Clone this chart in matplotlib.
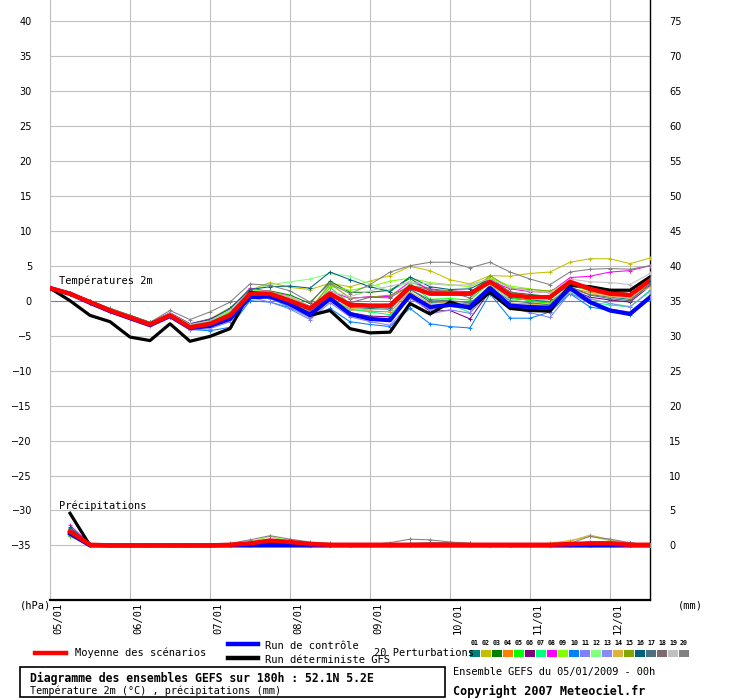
import numpy as np
import matplotlib
matplotlib.use('Agg')
import matplotlib.pyplot as plt
import matplotlib.transforms as mtransforms
from matplotlib.lines import Line2D
from matplotlib.patches import Rectangle

nan = np.nan

# time steps (hours from 05/01 00h), every 6h up to 180h
hours = list(range(0, 181, 6))
day_labels = ['05/01', '06/01', '07/01', '08/01', '09/01', '10/01', '11/01', '12/01']
day_hours = [0, 24, 48, 72, 96, 120, 144, 168]

# 2m temperature (°C)
temp_mean = [1.8, 1.0, -0.2, -1.4, -2.4, -3.4, -2.1, -3.8, -3.3, -2.1, 1.0, 1.0, 0.0, -1.1, 1.0, -0.6,
             -0.7, -0.7, 2.0, 1.0, 1.0, 1.0, 2.7, 0.8, 0.5, 0.5, 2.7, 1.7, 1.0, 0.8, 2.9]
temp_ctrl = [1.8, 1.0, -0.3, -1.5, -2.5, -3.5, -2.2, -3.9, -3.6, -2.6, 0.5, 0.6, -0.5, -2.0, 0.3, -1.9,
             -2.6, -2.8, 0.8, -0.9, -0.6, -0.9, 1.8, -0.7, -0.9, -1.0, 1.8, -0.2, -1.4, -1.9, 0.5]
temp_det = [1.8, 0.0, -2.1, -3.0, -5.2, -5.7, -3.3, -5.8, -5.1, -4.0, 1.2, 0.8, -0.4, -2.1, -1.4, -4.0,
            -4.6, -4.5, -0.4, -1.9, -0.2, -1.1, 1.2, -1.1, -1.4, -1.5, 2.2, 2.0, 1.5, 1.5, 3.4]

temp_pert = [
    [1.8, 1.1, -0.1, -1.2, -2.2, -3.2, -1.9, -3.6, -3.2, -1.7, 0.7, 0.4, -0.6, -2.2, 1.0, -1.0, -1.1, -1.3, 1.7, -0.2, -0.3, -0.5, 2.2, 0.3, 0.1, -0.1, 1.7, 0.9, 0.5, 0.2, 2.2],
    [1.8, 1.0, -0.1, -1.2, -2.1, -3.1, -1.8, -3.4, -2.6, -1.0, 1.5, 2.6, 1.9, 1.6, 2.5, 2.0, 2.8, 3.6, 4.9, 4.3, 3.0, 2.4, 3.6, 3.5, 3.9, 4.1, 5.5, 6.0, 6.0, 5.3, 6.1],
    [1.8, 1.1, 0.0, -1.1, -2.1, -3.1, -1.8, -3.4, -2.9, -1.2, 1.3, 1.4, 0.8, -0.4, 2.8, 1.2, 1.2, 1.5, 3.2, 1.4, 1.1, 0.9, 3.3, 1.2, 0.9, 0.6, 2.1, 1.6, 1.4, 1.0, 3.0],
    [1.7, 0.9, -0.3, -1.4, -2.4, -3.4, -2.1, -3.9, -3.6, -2.3, 1.1, 0.7, -0.4, -1.9, 0.5, -1.3, -1.5, -1.6, 1.2, -1.0, -0.7, -0.9, 2.1, -0.5, -0.4, -0.2, 1.8, 1.2, 0.8, 0.6, 2.3],
    [1.8, 1.0, -0.1, -1.3, -2.2, -3.2, -1.9, -3.5, -3.0, -1.6, 1.0, 1.1, 0.2, -1.7, 1.9, -0.4, -0.6, -0.5, 2.4, 0.2, 0.3, 0.1, 2.6, 0.5, 0.0, -0.4, 2.3, 1.4, 0.9, 0.6, 2.6],
    [1.8, 0.9, -0.3, -1.5, -2.5, -3.5, -2.2, -3.9, -3.5, -2.4, 0.9, 0.5, -0.3, -2.1, 0.7, -1.7, -2.2, -2.3, 0.5, -1.5, -1.4, -2.6, 1.4, -0.8, -1.0, -1.3, 1.6, 0.5, 0.1, -0.2, 2.1],
    [1.8, 1.0, -0.2, -1.4, -2.3, -3.4, -2.1, -3.8, -3.7, -2.6, 1.2, 0.4, -1.0, -2.3, 0.4, -1.2, -1.6, -2.0, 0.9, -0.7, -0.5, -1.7, 1.9, -0.6, -1.2, -1.4, 1.1, -0.2, -0.6, -0.9, 1.5],
    [1.8, 1.1, 0.0, -1.2, -2.2, -3.2, -1.7, -3.3, -2.6, -1.3, 1.8, 1.3, 0.6, -0.8, 1.4, 0.3, 0.6, 0.6, 2.7, 1.7, 1.4, 1.3, 2.8, 1.7, 1.3, 1.2, 3.3, 3.5, 4.1, 4.3, 5.0],
    [1.8, 1.1, 0.0, -1.2, -2.1, -3.2, -1.9, -3.5, -3.0, -1.5, 1.5, 1.3, 0.5, -1.0, 2.1, 1.5, 2.0, 2.8, 3.2, 2.6, 2.3, 2.0, 3.3, 2.1, 1.7, 1.3, 2.3, 1.5, 1.1, 1.0, 2.7],
    [1.8, 1.0, -0.3, -1.5, -2.5, -3.5, -2.3, -4.1, -4.3, -3.8, 0.0, -0.2, -1.0, -2.3, -1.1, -3.0, -3.4, -3.7, -1.1, -3.3, -3.7, -3.9, 1.0, -2.5, -2.5, -1.6, 1.0, -0.9, -1.4, -2.1, 0.3],
    [1.7, 0.9, -0.4, -1.6, -2.6, -3.6, -2.4, -4.2, -4.0, -3.0, 0.5, -0.2, -1.2, -2.7, -0.3, -2.3, -3.0, -3.5, -0.5, -1.9, -1.3, -1.8, 1.3, -1.0, -1.7, -2.4, 1.1, -0.4, -1.2, -1.6, 0.6],
    [1.8, 1.1, 0.0, -1.1, -2.1, -3.1, -1.8, -3.4, -2.8, -1.3, 1.4, 2.3, 2.7, 3.1, 3.9, 3.5, 2.4, 1.4, 2.8, 1.2, 0.9, 0.8, 2.3, 0.2, -0.3, -0.5, 1.3, 0.2, -0.4, -0.8, 1.2],
    [1.7, 0.9, -0.3, -1.5, -2.5, -3.5, -2.3, -4.0, -3.8, -2.7, 0.9, 0.3, -0.9, -2.5, 0.0, -2.0, -2.5, -2.6, 0.3, -1.3, -0.8, -1.2, 1.7, -0.4, -1.0, -1.7, 1.5, 0.3, -0.4, -0.9, 1.4],
    [1.8, 1.0, -0.2, -1.4, -2.3, -3.3, -2.0, -3.7, -3.4, -2.2, 1.0, 0.9, -0.1, -1.8, 0.9, -1.1, -1.3, -1.2, 1.3, -0.4, -0.2, -0.6, 1.6, -0.3, -0.5, -0.7, 1.6, 1.0, 0.6, 0.4, 2.0],
    [1.8, 1.0, -0.1, -1.3, -2.2, -3.2, -1.9, -3.6, -3.1, -1.8, 1.1, 1.0, 0.3, -1.3, 2.4, 0.4, 0.5, 0.8, 2.0, 1.2, 1.5, 1.0, 3.6, 1.8, 1.6, 1.4, 2.6, 1.5, 1.2, 1.0, 2.9],
    [1.8, 1.1, 0.0, -1.2, -2.1, -3.1, -1.8, -3.3, -2.7, -1.1, 1.6, 2.0, 2.1, 1.8, 4.1, 3.0, 2.0, 1.3, 3.4, 2.0, 1.6, 1.7, 3.1, 0.6, 0.5, 0.3, 2.5, 1.5, 1.3, 1.0, 2.8],
    [1.8, 1.0, -0.2, -1.4, -2.4, -3.3, -2.0, -3.7, -3.3, -2.0, 0.9, 0.6, -0.5, -2.0, 0.8, -0.7, -0.9, -1.1, 1.6, 0.1, 0.0, -0.3, 1.9, 0.0, -0.3, -0.6, 2.0, 0.8, 0.3, 0.0, 2.4],
    [1.8, 1.0, -0.2, -1.3, -2.3, -3.3, -2.0, -3.6, -3.2, -1.9, 1.2, 0.8, 0.0, -1.5, 0.6, -0.3, 0.5, 0.4, 2.2, 1.6, 1.2, 0.4, 2.9, 1.3, 0.6, 0.3, 2.4, 2.0, 1.6, 1.4, 3.3],
    [1.8, 1.1, 0.0, -1.2, -2.2, -3.2, -1.8, -3.4, -2.9, -1.4, 1.3, 1.0, 0.6, -0.8, 1.3, 0.6, 1.4, 2.1, 2.6, 2.4, 2.2, 2.3, 3.1, 1.9, 1.4, 1.1, 3.1, 2.7, 2.6, 2.3, 3.9],
    [1.8, 1.1, 0.0, -1.1, -2.1, -3.1, -1.4, -2.7, -1.6, -0.2, 2.4, 2.2, 1.4, -0.2, 2.5, 1.0, 2.3, 4.1, 5.0, 5.5, 5.5, 4.7, 5.5, 4.1, 3.1, 2.3, 4.1, 4.5, 4.6, 4.5, 5.0],
]

# 6h precipitation (mm)
prec_mean = [nan, 2.0, 0.1, 0, 0, 0, 0, 0, 0, 0.1, 0.3, 0.7, 0.5, 0.2, 0.1, 0.1,
             0.1, 0.1, 0.1, 0.1, 0.1, 0.1, 0.1, 0.1, 0.1, 0.1, 0.2, 0.3, 0.3, 0.1, 0.1]
prec_ctrl = [nan, 1.7, 0, 0, 0, 0, 0, 0, 0, 0, 0, 0, 0, 0, 0, 0,
             0, 0, 0, 0, 0, 0, 0, 0, 0, 0, 0, 0, 0, 0, 0]
prec_det = [nan, 4.6, 0, 0, 0, 0, 0, 0, 0, 0, 0.2, 0.3, 0.1, 0, 0, 0,
            0, 0, 0, 0, 0, 0, 0, 0, 0, 0, 0, 0, 0, 0, 0]

prec_pert = [
    [nan, 2.5, 0.2, 0, 0, 0, 0, 0, 0, 0, 0.2, 0.4, 0.2, 0.1, 0, 0, 0, 0, 0, 0, 0, 0, 0, 0, 0, 0, 0, 0, 0, 0, 0],
    [nan, 1.8, 0.1, 0, 0, 0, 0, 0, 0, 0, 0.4, 0.8, 0.6, 0.4, 0.1, 0, 0, 0, 0, 0, 0, 0, 0, 0, 0, 0.3, 0.7, 1.3, 0.7, 0.3, 0],
    [nan, 1.5, 0.1, 0, 0, 0, 0, 0, 0, 0, 0.3, 0.5, 0.3, 0.2, 0.1, 0, 0, 0, 0, 0, 0.3, 0.3, 0, 0, 0, 0, 0, 0, 0, 0, 0],
    [nan, 2.1, 0.2, 0, 0, 0, 0, 0, 0, 0, 0.1, 0.4, 0.2, 0.1, 0, 0, 0, 0, 0, 0, 0, 0, 0, 0, 0, 0, 0, 0, 0, 0, 0],
    [nan, 1.3, 0.1, 0, 0, 0, 0, 0, 0, 0, 0.2, 0.7, 0.3, 0.3, 0.2, 0, 0, 0, 0, 0, 0, 0, 0, 0, 0, 0, 0, 0, 0, 0, 0],
    [nan, 2.2, 0.2, 0, 0, 0, 0, 0, 0, 0, 0.3, 0.6, 0.4, 0.1, 0, 0, 0, 0, 0, 0, 0, 0, 0, 0, 0, 0, 0, 0, 0, 0, 0],
    [nan, 1.6, 0.1, 0, 0, 0, 0, 0, 0, 0, 0.2, 0.5, 0.2, 0, 0, 0, 0, 0, 0, 0, 0, 0, 0, 0, 0, 0, 0, 0, 0, 0, 0],
    [nan, 2.9, 0.2, 0, 0, 0, 0, 0, 0, 0, 0.4, 0.9, 0.4, 0.2, 0, 0, 0, 0, 0, 0, 0, 0, 0, 0, 0, 0, 0.2, 0.5, 0.5, 0.4, 0],
    [nan, 1.9, 0.1, 0, 0, 0, 0, 0, 0, 0, 0.5, 1.3, 0.6, 0.2, 0, 0, 0, 0, 0, 0, 0, 0, 0, 0, 0, 0, 0, 0, 0, 0, 0],
    [nan, 2.4, 0.2, 0, 0, 0, 0, 0, 0, 0, 0.1, 0.3, 0.1, 0, 0, 0, 0, 0, 0, 0, 0, 0, 0, 0, 0, 0, 0, 0, 0, 0, 0],
    [nan, 2.0, 0.1, 0, 0, 0, 0, 0, 0, 0, 0.2, 0.4, 0.2, 0, 0, 0, 0, 0, 0, 0, 0, 0, 0, 0, 0, 0, 0, 0, 0, 0, 0],
    [nan, 1.2, 0.1, 0, 0, 0, 0, 0, 0, 0, 0.3, 0.6, 0.4, 0.3, 0.2, 0.1, 0, 0, 0, 0, 0, 0, 0, 0, 0, 0, 0, 0, 0, 0, 0],
    [nan, 2.3, 0.2, 0, 0, 0, 0, 0, 0, 0, 0.2, 0.3, 0.2, 0, 0, 0, 0, 0, 0, 0, 0, 0, 0, 0, 0, 0, 0, 0, 0, 0, 0],
    [nan, 1.7, 0.1, 0, 0, 0, 0, 0, 0, 0, 0.3, 0.7, 0.5, 0.4, 0, 0, 0, 0, 0, 0, 0, 0, 0, 0, 0, 0.3, 0.6, 1.5, 0.8, 0.2, 0],
    [nan, 1.4, 0.1, 0, 0, 0, 0, 0, 0, 0, 0.3, 0.8, 0.4, 0.2, 0.1, 0, 0, 0, 0, 0, 0, 0, 0, 0, 0, 0, 0, 0, 0, 0, 0],
    [nan, 2.6, 0.2, 0, 0, 0, 0, 0, 0, 0, 0.2, 0.5, 0.3, 0.1, 0, 0, 0, 0, 0, 0, 0, 0, 0, 0, 0, 0, 0, 0, 0, 0, 0],
    [nan, 1.9, 0.1, 0, 0, 0, 0, 0, 0, 0, 0.2, 0.4, 0.2, 0, 0, 0, 0, 0, 0.2, 0.3, 0.3, 0.1, 0, 0, 0, 0, 0, 0, 0, 0, 0],
    [nan, 2.0, 0.1, 0, 0, 0, 0, 0, 0, 0, 0.3, 0.5, 0.3, 0.2, 0, 0, 0, 0, 0.3, 0.4, 0.4, 0.2, 0, 0, 0, 0, 0, 0.2, 0.3, 0.1, 0],
    [nan, 1.6, 0.1, 0, 0, 0, 0, 0, 0, 0, 0.4, 0.8, 0.6, 0.3, 0.2, 0.1, 0, 0, 0, 0, 0, 0, 0, 0, 0, 0, 0, 0.3, 0.4, 0.2, 0],
    [nan, 2.2, 0.2, 0, 0, 0, 0, 0, 0, 0.3, 0.8, 1.4, 0.9, 0.5, 0.3, 0.1, 0.1, 0.4, 0.9, 0.8, 0.5, 0.3, 0.1, 0, 0, 0, 0.3, 1.3, 0.9, 0.4, 0],
]

pert_colors = ['#008080', '#c0c000', '#008000', '#ff8000', '#00ff00', '#800080', '#00ff80',
               '#ff00ff', '#80ff00', '#0080ff', '#8080ff', '#80ff80', '#8888f8', '#e0b040',
               '#80a800', '#006080', '#507080', '#806870', '#c0c0c0', '#808080']

prec_base = -35
mono = 'DejaVu Sans Mono'

W, H = 740, 700
fig = plt.figure(figsize=(7.4, 7.0), dpi=100)
ax = fig.add_axes([50 / W, 1 - 600 / H, 600 / W, 600 / H])


def fx(x):
    return x / W


def fy(y):
    return 1 - y / H


# perturbations
for vals, col in zip(temp_pert, pert_colors):
    ax.plot(hours, vals, color=col, lw=0.75, marker='+', ms=3.5, mew=0.7, zorder=3)
for vals, col in zip(prec_pert, pert_colors):
    ax.plot(hours, np.array(vals) + prec_base, color=col, lw=0.75, marker='+', ms=3.5, mew=0.7, zorder=3)

# deterministic, control, mean
ax.plot(hours, temp_det, color='black', lw=2.3, zorder=4)
ax.plot(hours, np.array(prec_det) + prec_base, color='black', lw=2.3, zorder=4)
ax.plot(hours, temp_ctrl, color='#0000ff', lw=3.0, zorder=5)
ax.plot(hours, np.array(prec_ctrl) + prec_base, color='#0000ff', lw=3.0, zorder=5)
ax.plot(hours, temp_mean, color='#ff0000', lw=3.2, zorder=6)
ax.plot(hours, np.array(prec_mean) + prec_base, color='#ff0000', lw=3.2, zorder=6)

ax.set_xlim(0, 180)
ax.set_ylim(-42.8, 43.0)

# grid
for v in range(-35, 45, 5):
    ax.axhline(v, color='#808080' if v == 0 else '#c0c0c0', lw=0.8, zorder=1)
for h in day_hours:
    ax.axvline(h, color='#c0c0c0', lw=0.8, zorder=1)

ax.set_xticks([])
ax.set_yticks(range(-35, 45, 5))
ax.tick_params(axis='y', length=0, pad=13, labelsize=7)
ax.spines['top'].set_visible(False)
ax.spines['left'].set_color('#c0c0c0')
ax.spines['left'].set_linewidth(0.8)
ax.spines['bottom'].set_linewidth(1.6)
ax.spines['right'].set_linewidth(1.0)

sec = ax.secondary_yaxis('right', functions=(lambda v: v - prec_base, lambda v: v + prec_base))
sec.set_yticks(range(0, 80, 5))
sec.tick_params(length=0, pad=14, labelsize=7)
sec.spines['right'].set_visible(False)

# date labels
trans = mtransforms.blended_transform_factory(ax.transData, ax.transAxes)
trans = mtransforms.offset_copy(trans, fig=fig, x=8, y=-3, units='dots')
for h, lab in zip(day_hours, day_labels):
    ax.text(h, 0, lab, transform=trans, rotation=90, ha='center', va='top',
            family=mono, fontsize=7.5)

fig.text(fx(20), fy(606), '(hPa)', va='center', ha='left', family=mono, fontsize=7.5)
fig.text(fx(678), fy(606), '(mm)', va='center', ha='left', family=mono, fontsize=7.5)

fig.text(fx(59), fy(281), 'Températures 2m', va='center', ha='left', family=mono, fontsize=7.5)
fig.text(fx(59), fy(506), 'Précipitations', va='center', ha='left', family=mono, fontsize=7.5)

# legend
fig.add_artist(Line2D([fx(35), fx(66)], [fy(653), fy(653)], color='#ff0000', lw=3.2))
fig.text(fx(75), fy(653), 'Moyenne des scénarios', va='center', ha='left', family=mono, fontsize=7.5)
fig.add_artist(Line2D([fx(228), fx(258)], [fy(644), fy(644)], color='#0000ff', lw=3.2))
fig.add_artist(Line2D([fx(228), fx(258)], [fy(658), fy(658)], color='black', lw=3.2))
fig.text(fx(265), fy(646), 'Run de contrôle', va='center', ha='left', family=mono, fontsize=7.5)
fig.text(fx(265), fy(660), 'Run déterministe GFS', va='center', ha='left', family=mono, fontsize=7.5)
fig.text(fx(374), fy(653), '20 Perturbations', va='center', ha='left', family=mono, fontsize=7.5)
for i, col in enumerate(pert_colors):
    x0 = 470 + i * 11
    fig.add_artist(Rectangle((fx(x0), fy(657)), 10 / W, 7 / H, color=col, lw=0))
    fig.text(fx(x0 + 5), fy(643), f'{i + 1:02d}', va='center', ha='center', family=mono,
             fontsize=4.8, fontweight='bold')

# title box
fig.add_artist(Rectangle((fx(20), fy(697)), 425 / W, 30 / H, fill=False, ec='black', lw=1.2))
fig.text(fx(30), fy(678), 'Diagramme des ensembles GEFS sur 180h : 52.1N 5.2E', va='center', ha='left',
         family=mono, fontsize=8.3, fontweight='bold')
fig.text(fx(30), fy(691), 'Température 2m (°C) , précipitations (mm)', va='center', ha='left',
         family=mono, fontsize=7.3)
fig.text(fx(453), fy(672), 'Ensemble GEFS du 05/01/2009 - 00h', va='center', ha='left',
         family=mono, fontsize=7.4)
fig.text(fx(453), fy(691), 'Copyright 2007 Meteociel.fr', va='center', ha='left',
         family=mono, fontsize=8.5, fontweight='bold')

fig.savefig('out.png', dpi=100)
